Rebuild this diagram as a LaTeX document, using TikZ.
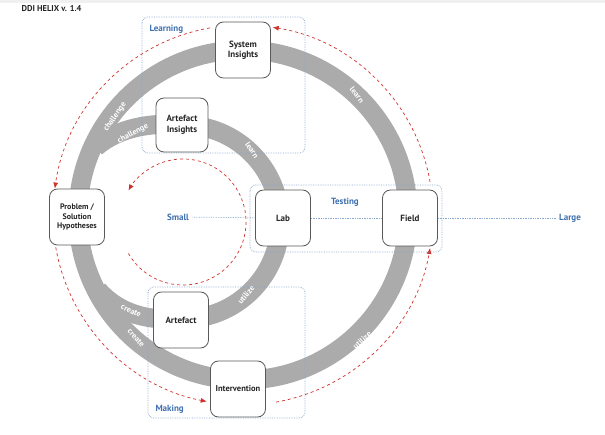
\documentclass[tikz,border=0pt]{standalone}
\usepackage{fontspec}
\setmainfont{PT Sans}
\usetikzlibrary{arrows.meta}
\definecolor{band}{HTML}{ABABAB}
\definecolor{blu}{HTML}{3E6FB0}
\definecolor{dred}{HTML}{D0302A}
\tikzset{
 box/.style={draw=black!65,line width=0.8pt,fill=white,rounded corners=8pt,minimum width=58pt,minimum height=58pt,align=center,font=\bfseries\fontsize{9}{10.5}\selectfont,text=black!85},
 bandline/.style={draw=band,line width=19pt},
 blab/.style={text=white,font=\bfseries\fontsize{8}{8}\selectfont},
 reddash/.style={draw=dred,dashed,line width=0.7pt,-{Latex[length=6pt,width=5pt]}},
 area/.style={draw=blu!60,densely dotted,line width=0.7pt,rounded corners=6pt},
 alab/.style={text=blu,font=\bfseries\fontsize{9}{10}\selectfont},
 scaleline/.style={draw=blu!60,densely dotted,line width=0.7pt}
}
\begin{document}
\begin{tikzpicture}[x=1pt,y=-1pt]
\useasboundingbox (0,0) rectangle (605,435);
\fill[black!6] (0,0) rectangle (605,3);
\node[anchor=west,font=\bfseries\fontsize{8.5}{9}\selectfont,text=black!85] (title) at (18,9) {DDI HELIX v. 1.4};
% bands
\draw[bandline] (243,215) circle[radius=165pt];
\draw[bandline] (96,147) .. controls (118,128) and (150,122) .. (183,125)
  arc[start angle=90,end angle=-90,radius=97pt]
  .. controls (150,321) and (120,315) .. (98,290);
% band labels
\node[blab,rotate=55] (c1) at (115,117) {challenge};
\node[blab,rotate=28] (c2) at (133,134) {challenge};
\node[blab,rotate=-52] (l1) at (357,95) {learn};
\node[blab,rotate=-57] (l2) at (252,150) {learn};
\node[blab,rotate=50] (u1) at (246,295) {utilize};
\node[blab,rotate=42] (u2) at (362,340) {utilize};
\node[blab,rotate=-25] (cr1) at (131,311) {create};
\node[blab,rotate=-48] (cr2) at (136,338) {create};
% red dashed
\draw[reddash] ([shift={(10:190pt)}]243,215) arc[start angle=10,end angle=81,radius=190pt];
\draw[reddash] ([shift={(100:190pt)}]243,215) arc[start angle=100,end angle=172,radius=190pt];
\draw[reddash] ([shift={(188:190pt)}]243,215) arc[start angle=188,end angle=259,radius=190pt];
\draw[reddash] ([shift={(280:190pt)}]243,215) arc[start angle=280,end angle=350,radius=190pt];
\draw[reddash] ([shift={(-150:63pt)}]183,222) arc[start angle=-150,end angle=150,radius=63pt];
% areas
\draw[area] (142,17) rectangle (305,153);
\draw[area] (250,185) rectangle (442,252);
\draw[area] (148,287) rectangle (305,418);
\node[alab,anchor=west] (learning) at (146,29) {Learning};
\node[alab] (testing) at (345,202) {Testing};
\node[alab,anchor=west] (making) at (152,409) {Making};
\node[alab] (small) at (178,217) {Small};
\node[alab] (large) at (570,218) {Large};
% boxes
\node[box,minimum width=55pt,minimum height=56pt] (sys) at (243,50) {System\\Insights};
\node[box,minimum width=52pt,minimum height=54pt] (ai) at (182,125) {Artefact\\Insights};
\node[box,minimum width=55pt,minimum height=56pt,font=\bfseries\fontsize{8}{9.5}\selectfont] (prob) at (77,217) {Problem /\\Solution\\Hypotheses};
\node[box,minimum width=55pt,minimum height=56pt] (lab) at (283,218) {Lab};
\node[box,minimum width=55pt,minimum height=56pt] (field) at (410,218) {Field};
\node[box,minimum width=55pt,minimum height=56pt] (art) at (181,320) {Artefact};
\node[box,minimum width=55pt,minimum height=56pt,font=\bfseries\fontsize{8.5}{10}\selectfont] (int) at (238,389) {Intervention};
% scale line
\draw[scaleline] (small) -- (lab);
\draw[scaleline] (lab) -- (field);
\draw[scaleline] (field) -- (large);
\end{tikzpicture}
\end{document}
